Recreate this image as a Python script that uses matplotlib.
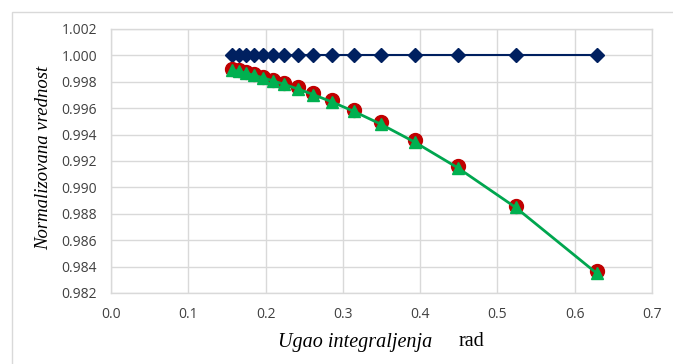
import matplotlib
matplotlib.use("Agg")
import matplotlib.pyplot as plt
from matplotlib.patches import Rectangle

angle = [0.1571, 0.1653, 0.1745, 0.1848, 0.1963, 0.2094, 0.2244, 0.2417,
         0.2618, 0.2856, 0.3142, 0.3491, 0.3927, 0.4488, 0.5236, 0.6283]
reference = [1.0] * 16
red_vals = [0.99897, 0.99886, 0.99873, 0.99858, 0.99839, 0.99817, 0.99790, 0.99757,
            0.99715, 0.99661, 0.99589, 0.99493, 0.99359, 0.99163, 0.98862, 0.98363]
green_vals = [0.99890, 0.99879, 0.99866, 0.99850, 0.99831, 0.99808, 0.99780, 0.99746,
              0.99703, 0.99648, 0.99576, 0.99479, 0.99344, 0.99148, 0.98848, 0.98350]
xticks = [0.0, 0.1, 0.2, 0.3, 0.4, 0.5, 0.6, 0.7]
yticks = [0.982, 0.984, 0.986, 0.988, 0.990, 0.992, 0.994, 0.996, 0.998, 1.000, 1.002]

fig = plt.figure(figsize=(6.73, 3.64), dpi=100)
W, H = 673, 364
ax = fig.add_axes([111 / W, 1 - 293 / H, (652 - 111) / W, (293 - 29) / H])

# outer frame (extends past right and bottom edges)
fig.patches.append(Rectangle((12 / W, -0.05), 1.0, (1 - 12 / H) + 0.05,
                             transform=fig.transFigure, fill=False,
                             edgecolor="#d9d9d9", linewidth=1.0))

ax.plot(angle, reference, color="#002060", linewidth=1.5, marker="D",
        markersize=7, markerfacecolor="#002060", markeredgecolor="#002060", zorder=3)
ax.plot(angle, red_vals, linestyle="none", marker="o", markersize=10,
        markerfacecolor="#c00000", markeredgecolor="#c00000", zorder=4)
ax.plot(angle, green_vals, color="#00a64f", linewidth=2.0, marker="^",
        markersize=9, markerfacecolor="#00b050", markeredgecolor="#00b050", zorder=5)

ax.set_xlim(0, 0.7)
ax.set_ylim(0.982, 1.002)
ax.set_xticks(xticks)
ax.set_yticks(yticks)
ax.set_xticklabels([f"{t:.1f}" for t in xticks])
ax.set_yticklabels([f"{t:.3f}" for t in yticks])
ax.grid(True, color="#d9d9d9", linewidth=1.0)
ax.set_axisbelow(True)
for s in ax.spines.values():
    s.set_color("#d9d9d9")
    s.set_linewidth(1.0)
ax.tick_params(length=0, labelsize=10, labelcolor="#404040", pad=10)
for lab in ax.get_xticklabels() + ax.get_yticklabels():
    lab.set_family("Open Sans")

fig.text(278 / W, 1 - 342 / H, "Ugao integraljenja", fontsize=14.5,
         family="Liberation Serif", style="italic", ha="left", va="center")
fig.text(459 / W, 1 - 342 / H, "rad", fontsize=14.5, family="Liberation Serif",
         ha="left", va="center")
fig.text(44 / W, 1 - 158 / H, "Normalizovana vrednost", fontsize=13.5,
         family="Liberation Serif", style="italic", rotation=90,
         ha="center", va="center")

fig.savefig("out.png", dpi=100)
